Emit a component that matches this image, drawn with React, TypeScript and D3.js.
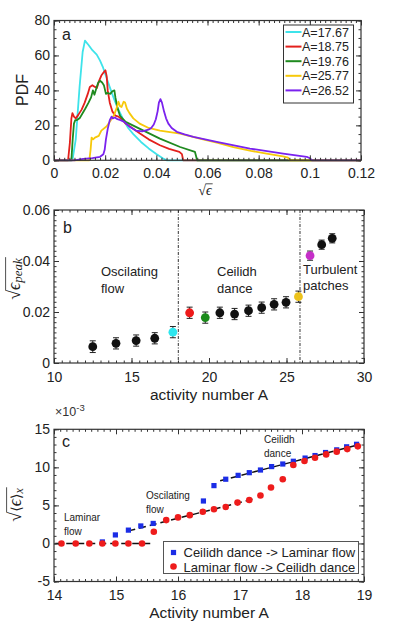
import * as d3 from "d3";
import { useEffect, useLayoutEffect, useRef, useState } from "react";

const W = 395;
const H = 622;
const FONT = "'Liberation Sans', Arial, sans-serif";
const MATH = "'Liberation Serif', 'DejaVu Serif', serif";

// ---- panel a: PDF of sqrt(eps), [x, pdf] pairs
const pdfA1767 = [[0, 0], [0.0072, 0], [0.0085, 12], [0.01, 42], [0.0112, 62], [0.0121, 68.5], [0.0135, 66], [0.015, 63], [0.0167, 60.5], [0.018, 57], [0.0192, 53], [0.0206, 47], [0.022, 41], [0.0235, 35], [0.025, 29.5], [0.027, 23.5], [0.029, 18.5], [0.031, 15], [0.034, 10.5], [0.037, 6.8], [0.04, 3.6], [0.0425, 1.2], [0.044, 0], [0.12, 0]];
const pdfA1875 = [[0, 0], [0.0055, 0], [0.0062, 10], [0.0068, 24], [0.0072, 27], [0.0078, 25], [0.0085, 24], [0.0095, 26], [0.0108, 29], [0.012, 33], [0.0132, 38], [0.014, 42], [0.015, 43], [0.016, 42], [0.0168, 41.5], [0.0175, 45], [0.0185, 48.5], [0.0195, 50.5], [0.0201, 51.5], [0.0206, 48], [0.021, 40], [0.0218, 33], [0.0228, 28], [0.024, 25.5], [0.0252, 25], [0.0265, 23.5], [0.028, 21], [0.03, 19], [0.0336, 15.3], [0.037, 12], [0.0414, 8.6], [0.045, 6.5], [0.049, 4.8], [0.05, 3.5], [0.0505, 0], [0.12, 0]];
const pdfA1976 = [[0, 0], [0.0068, 0], [0.0073, 12], [0.0078, 21], [0.0083, 23], [0.009, 23], [0.01, 24], [0.011, 26.5], [0.0122, 29.5], [0.0135, 33], [0.0145, 36], [0.0152, 40], [0.0158, 37.5], [0.0165, 41], [0.0173, 44.5], [0.018, 45.5], [0.0188, 44.5], [0.0195, 43], [0.0203, 38], [0.021, 38.5], [0.022, 38], [0.0228, 39.5], [0.0236, 40], [0.024, 36], [0.0248, 30], [0.0258, 25.5], [0.028, 22], [0.0336, 18], [0.0414, 12.4], [0.0493, 7.6], [0.0551, 4.8], [0.0556, 2], [0.0559, 0], [0.12, 0]];
const pdfA2577 = [[0, 0], [0.0138, 0], [0.0143, 6], [0.0147, 13], [0.0153, 12], [0.016, 13], [0.0175, 14], [0.0185, 17], [0.0206, 19.5], [0.022, 22.5], [0.0235, 26], [0.0245, 30], [0.0252, 33.5], [0.0258, 31], [0.0264, 30.5], [0.0272, 33.5], [0.0278, 33], [0.0285, 29.5], [0.0295, 27], [0.031, 24], [0.0335, 21], [0.037, 18.5], [0.0414, 17], [0.0493, 15.3], [0.057, 12.4], [0.064, 10], [0.0701, 7.6], [0.077, 5.4], [0.0831, 3.8], [0.0895, 2.3], [0.0915, 1.5], [0.0922, 0], [0.12, 0]];
const pdfA2652 = [[0, 0], [0.008, 0], [0.0114, 0.8], [0.015, 1.3], [0.018, 2], [0.0193, 3.5], [0.0198, 6], [0.0203, 12], [0.021, 18], [0.0218, 23], [0.0225, 25], [0.023, 24], [0.0238, 24.5], [0.0248, 23.5], [0.026, 23], [0.0275, 22], [0.0297, 19], [0.032, 17], [0.0345, 16.5], [0.0369, 17.5], [0.038, 18.5], [0.039, 20.5], [0.0398, 23.5], [0.0405, 28], [0.041, 33], [0.0416, 35], [0.0422, 33], [0.043, 28], [0.0438, 24], [0.0447, 21], [0.046, 18.5], [0.048, 16.3], [0.051, 14.8], [0.0545, 13.4], [0.0636, 10.5], [0.0766, 6.7], [0.0896, 3.8], [0.0988, 2], [0.1002, 1], [0.1007, 0], [0.12, 0]];
const pdfLabels = ["A=17.67", "A=18.75", "A=19.76", "A=25.77", "A=26.52"];
const pdfColors = ["#3ee3ea", "#e3201c", "#1f8a1f", "#f7c90a", "#7a22ee"];
const pdfSeries = [pdfA1767, pdfA1875, pdfA1976, pdfA2577, pdfA2652];
const aXTicks = [0, 0.02, 0.04, 0.06, 0.08, 0.1, 0.12];
const aYTicks = [0, 20, 40, 60, 80];

// ---- panel b: peak sqrt(eps) vs activity number
const bA = [12.5, 14.0, 15.3, 16.5, 17.67, 18.75, 19.76, 20.7, 21.65, 22.55, 23.4, 24.2, 24.97, 25.77, 26.52, 27.27, 27.95];
const bPeak = [0.0064, 0.0077, 0.0088, 0.0097, 0.0121, 0.0197, 0.0178, 0.0197, 0.0192, 0.0205, 0.0217, 0.023, 0.0238, 0.026, 0.0421, 0.0464, 0.0489];
const bErr = [0.0023, 0.0022, 0.0022, 0.0022, 0.0022, 0.0022, 0.0022, 0.0022, 0.0022, 0.0022, 0.0022, 0.0022, 0.0022, 0.0022, 0.0018, 0.0018, 0.0018];
const bColors = ["#111", "#111", "#111", "#111", "#2ee6ee", "#ee1a1a", "#1a8a1a", "#111", "#111", "#111", "#111", "#111", "#111", "#ecc21c", "#c52fc8", "#111", "#111"];
const bBounds = [18.02, 25.87];
const bXTicks = [10, 15, 20, 25, 30];
const bYTicks = [0, 0.02, 0.04, 0.06];

// ---- panel c: hysteresis, values in units of 1e-3
const downA = [14.78, 14.99, 15.2, 15.4, 15.6, 16.41, 16.58, 16.77, 16.97, 17.15, 17.33, 17.51, 17.69, 17.86, 18.05, 18.21, 18.38, 18.56, 18.72, 18.88];
const downV = [0.2, 1.12, 1.75, 2.3, 2.63, 5.58, 7.6, 8.44, 8.95, 9.3, 9.65, 10.1, 10.44, 10.8, 11.22, 11.55, 11.95, 12.3, 12.7, 13.03];
const upA = [14.12, 14.35, 14.57, 14.78, 14.99, 15.2, 15.42, 15.61, 15.81, 16.0, 16.19, 16.4, 16.58, 16.77, 16.96, 17.15, 17.33, 17.5, 17.69, 17.86, 18.04, 18.21, 18.39, 18.56, 18.73, 18.9];
const upV = [0, 0, 0, 0, 0, 0, 0, 1.53, 3.07, 3.42, 3.72, 4.16, 4.5, 4.78, 5.37, 5.7, 6.3, 7.35, 8.44, 10.3, 10.83, 11.27, 11.7, 12.06, 12.4, 12.76];
const fitA = [[14.02, 15.57], [15.2, 17.2], [16.68, 18.93]];
const fitV = [[0, 0], [1.65, 5.8], [8.25, 13.0]];
const cXTicks = [14, 15, 16, 17, 18, 19];
const cYTicks = [-5, 0, 5, 10, 15];

// scales
const xa = d3.scaleLinear().domain([0, 0.12]).range([54, 361]);
const ya = d3.scaleLinear().domain([0, 80]).range([160.3, 20.5]);
const xb = d3.scaleLinear().domain([10, 30]).range([54, 364]);
const yb = d3.scaleLinear().domain([0, 0.06]).range([363, 210]);
const xc = d3.scaleLinear().domain([14, 19]).range([54, 364]);
const yc = d3.scaleLinear().domain([-5, 15]).range([581.5, 429.3]);

type Scale = d3.ScaleLinear<number, number>;

function Frame({ x, y, xMajor, xMinor, yMajor, yMinor, pad }: { x: Scale; y: Scale; xMajor: number[]; xMinor: number[]; yMajor: number[]; yMinor: number[]; pad: number }) {
  const ref = useRef<SVGGElement>(null);
  useEffect(() => {
    const g = d3.select(ref.current);
    g.selectAll("*").remove();
    const [left, right] = x.range();
    const [bottom, top] = y.range();
    const put = (axis: any, dx: number, dy: number) =>
      g.append("g").attr("transform", `translate(${dx},${dy})`).call(axis).call((s: any) => s.select(".domain").remove());
    const blank = () => "";
    const minor = (a: any) => a.tickSizeInner(-2.5).tickSizeOuter(0).tickFormat(blank);
    put(minor(d3.axisBottom(x).tickValues(xMinor)), 0, bottom);
    put(minor(d3.axisTop(x).tickValues(xMinor)), 0, top);
    put(minor(d3.axisLeft(y).tickValues(yMinor)), left, 0);
    put(minor(d3.axisRight(y).tickValues(yMinor)), right, 0);
    put(d3.axisBottom(x).tickValues(xMajor).tickSizeInner(-5).tickSizeOuter(0).tickPadding(pad).tickFormat((d: any) => String(d)), 0, bottom);
    put(d3.axisTop(x).tickValues(xMajor).tickSizeInner(-5).tickSizeOuter(0).tickFormat(blank), 0, top);
    put(d3.axisLeft(y).tickValues(yMajor).tickSizeInner(-5).tickSizeOuter(0).tickPadding(4).tickFormat((d: any) => String(d)), left, 0);
    put(d3.axisRight(y).tickValues(yMajor).tickSizeInner(-5).tickSizeOuter(0).tickFormat(blank), right, 0);
    g.selectAll("g").attr("font-size", null).attr("font-family", null);
    g.selectAll("text").attr("font-size", 14).attr("font-family", FONT).attr("fill", "#222");
    g.selectAll("line").attr("stroke", "#333");
    g.append("rect")
      .attr("x", left).attr("y", top).attr("width", right - left).attr("height", bottom - top)
      .attr("fill", "none").attr("stroke", "#333").attr("stroke-width", 1.2);
  }, [x, y, xMajor, xMinor, yMajor, yMinor, pad]);
  return <g ref={ref} />;
}

function Radical({ x, y, size, rotate = 0, children }: { x: number; y: number; size: number; rotate?: number; children: any }) {
  const tRef = useRef<SVGTextElement>(null);
  const [m, setM] = useState({ total: 0, root: 0 });
  useLayoutEffect(() => {
    const t = tRef.current;
    if (t) setM({ total: t.getComputedTextLength(), root: t.getSubStringLength(0, 1) });
  }, []);
  return (
    <g transform={`translate(${x},${y}) rotate(${rotate})`}>
      <g transform={`translate(${-m.total / 2},0)`}>
        <text ref={tRef} fontSize={size} fontFamily={MATH} fill="#222">
          √{children}
        </text>
        <line x1={m.root - 0.6} x2={m.total + 1} y1={-size * 0.8} y2={-size * 0.8} stroke="#222" strokeWidth={0.8} />
      </g>
    </g>
  );
}

const aXMinor = d3.range(0, 0.1201, 0.002);
const aYMinor = d3.range(0, 80.1, 5);
const bXMinor = d3.range(10, 30.01, 0.5);
const bYMinor = d3.range(0, 0.0601, 0.002);
const cXMinor = d3.range(14, 19.01, 0.1);
const cYMinor = d3.range(-5, 15.01, 1);

export default function App() {
  const line = d3.line<number[]>().x((d) => xa(d[0])).y((d) => ya(d[1]));
  const fitLine = d3.line<number>();
  return (
    <svg width={W} height={H} viewBox={`0 0 ${W} ${H}`} style={{ position: "absolute", left: 0, top: 0, background: "#fff" }} fontFamily={FONT}>
      {/* ---------- panel a ---------- */}
      <g>
        {pdfSeries.map((s, i) => (
          <path key={i} d={line(s) ?? ""} fill="none" stroke={pdfColors[i]} strokeWidth={1.8} strokeLinejoin="round" />
        ))}
        <Frame x={xa} y={ya} xMajor={aXTicks} xMinor={aXMinor} yMajor={aYTicks} yMinor={aYMinor} pad={8} />
        <text x={62} y={40} fontSize={16} fill="#222">a</text>
        <g transform="translate(283.5,25)">
          <rect width={70} height={78} fill="#fff" stroke="#333" strokeWidth={1} />
          {pdfLabels.map((l, i) => (
            <g key={l} transform={`translate(0,${7 + i * 14.6})`}>
              <line x1={2} x2={18} stroke={pdfColors[i]} strokeWidth={2} />
              <text x={18.5} y={4.5} fontSize={12.5} fill="#222">{l}</text>
            </g>
          ))}
        </g>
        <text transform="translate(28,90) rotate(-90)" textAnchor="middle" fontSize={16} fill="#222">PDF</text>
        <Radical x={205} y={195} size={14}>
          <tspan fontStyle="italic">ϵ</tspan>
        </Radical>
      </g>

      {/* ---------- panel b ---------- */}
      <g>
        {bBounds.map((v) => (
          <line key={v} x1={xb(v)} x2={xb(v)} y1={yb(0.06)} y2={yb(0)} stroke="#333" strokeWidth={1} strokeDasharray="3,1.5,1,1.5" />
        ))}
        {bA.map((a, i) => (
          <g key={i} stroke="#222" strokeWidth={1}>
            <line x1={xb(a)} x2={xb(a)} y1={yb(bPeak[i] - bErr[i])} y2={yb(bPeak[i] + bErr[i])} />
            <line x1={xb(a) - 3} x2={xb(a) + 3} y1={yb(bPeak[i] - bErr[i])} y2={yb(bPeak[i] - bErr[i])} />
            <line x1={xb(a) - 3} x2={xb(a) + 3} y1={yb(bPeak[i] + bErr[i])} y2={yb(bPeak[i] + bErr[i])} />
            <circle cx={xb(a)} cy={yb(bPeak[i])} r={4.4} fill={bColors[i]} stroke="none" />
          </g>
        ))}
        <Frame x={xb} y={yb} xMajor={bXTicks} xMinor={bXMinor} yMajor={bYTicks} yMinor={bYMinor} pad={9} />
        <text x={63} y={233} fontSize={16} fill="#222">b</text>
        <g fontSize={13} fill="#222">
          <text x={101} y={276}>Oscilating</text>
          <text x={101} y={293}>flow</text>
          <text x={217} y={276}>Ceilidh</text>
          <text x={217} y={293}>dance</text>
          <text x={303} y={274}>Turbulent</text>
          <text x={303} y={290}>patches</text>
        </g>
        <text x={209} y={400} textAnchor="middle" fontSize={15.5} fill="#222">activity number A</text>
        <Radical x={20} y={279} size={18} rotate={-90}>
          <tspan fontStyle="italic">ϵ</tspan>
          <tspan fontStyle="italic" fontSize={13} dy={2}>peak</tspan>
        </Radical>
      </g>

      {/* ---------- panel c ---------- */}
      <g>
        {fitA.map((a, i) => (
          <path key={i} d={fitLine([[xc(a[0]), yc(fitV[i][0])], [xc(a[1]), yc(fitV[i][1])]] as any) ?? ""} fill="none" stroke="#111" strokeWidth={1.5} strokeDasharray="7,4" />
        ))}
        {downA.map((a, i) => (
          <rect key={i} x={xc(a) - 2.6} y={yc(downV[i]) - 2.6} width={5.2} height={5.2} fill="#1b2de6" />
        ))}
        {upA.map((a, i) => (
          <circle key={i} cx={xc(a)} cy={yc(upV[i])} r={3.3} fill="#ee1c1c" />
        ))}
        <Frame x={xc} y={yc} xMajor={cXTicks} xMinor={cXMinor} yMajor={cYTicks} yMinor={cYMinor} pad={9} />
        <text x={62} y={447} fontSize={16} fill="#222">c</text>
        <text x={55} y={416} fontSize={12.5} fill="#333">
          ×10<tspan fontSize={9.5} dy={-5}>-3</tspan>
        </text>
        <g fontSize={10} fill="#222">
          <text x={64} y={521}>Laminar</text>
          <text x={64} y={535}>flow</text>
          <text x={146} y={499}>Oscilating</text>
          <text x={146} y={513}>flow</text>
          <text x={264} y={443}>Ceilidh</text>
          <text x={264} y={457}>dance</text>
        </g>
        <g transform="translate(163.5,541.5)">
          <rect width={195} height={32} fill="#fff" stroke="#555" strokeWidth={1} />
          <rect x={7.4} y={8.4} width={5.2} height={5.2} fill="#1b2de6" />
          <circle cx={10} cy={25} r={3.3} fill="#ee1c1c" />
          <text x={20} y={15.5} fontSize={13} fill="#222">Ceilidh dance -&gt; Laminar flow</text>
          <text x={20} y={30} fontSize={13} fill="#222">Laminar flow -&gt; Ceilidh dance</text>
        </g>
        <text x={209} y={618} textAnchor="middle" fontSize={15.5} fill="#222">Activity number A</text>
        <Radical x={21} y={505} size={18} rotate={-90}>
          <tspan fontFamily="'DejaVu Sans', sans-serif" fontSize={14}>⟨</tspan>
          <tspan fontStyle="italic">ϵ</tspan>
          <tspan fontFamily="'DejaVu Sans', sans-serif" fontSize={14}>⟩</tspan>
          <tspan fontStyle="italic" fontSize={12} dy={2}>x</tspan>
        </Radical>
      </g>
    </svg>
  );
}
